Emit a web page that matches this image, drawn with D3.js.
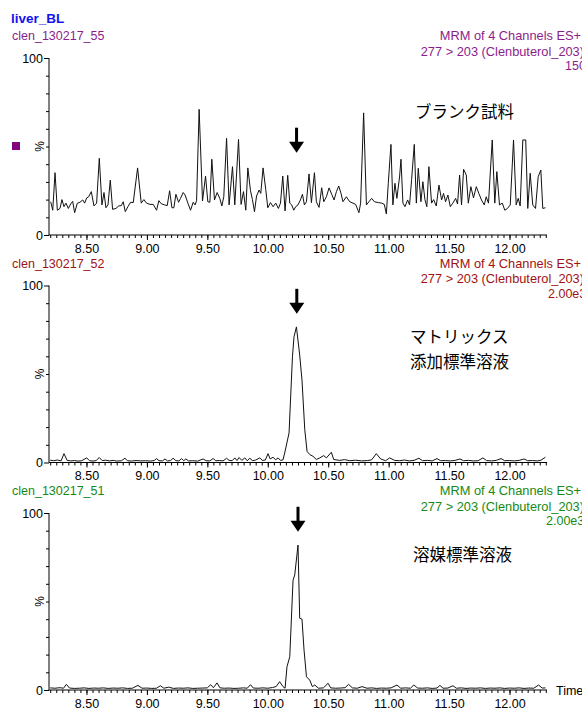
<!DOCTYPE html>
<meta charset="utf-8">
<style>
  body { margin: 0; background: #fff; }
  svg { display: block; font-family: "Liberation Sans", Arial, sans-serif; }
  .jp { font-family: "Noto Sans CJK JP", sans-serif; }
</style>
<svg id="chart" width="582" height="709"></svg>
<script src="https://cdnjs.cloudflare.com/ajax/libs/d3/7.8.5/d3.min.js"></script>
<script>

// retention time (min) vs relative intensity (%)
var blankTrace = [
  [8.204,18.8],[8.221,14],[8.240,35.2],[8.259,14],[8.281,15],[8.297,20],[8.314,16],[8.330,18],
  [8.350,15],[8.369,17.5],[8.386,19],[8.402,12.6],[8.424,17.9],[8.446,18.5],[8.469,19.8],[8.485,18],
  [8.502,21],[8.518,21.6],[8.540,24.5],[8.562,16.4],[8.584,18],[8.606,43.3],[8.628,17],[8.645,24],
  [8.661,15.4],[8.678,17],[8.697,31],[8.716,14.5],[8.744,15],[8.766,16.4],[8.788,16.6],[8.804,18.8],
  [8.821,13.2],[8.843,16],[8.865,18.5],[8.887,18.3],[8.923,37.9],[8.953,18],[8.975,20],[8.997,18],
  [9.025,17.3],[9.052,17.3],[9.080,14],[9.099,19.4],[9.118,17.7],[9.146,17],[9.168,16.6],[9.188,25],
  [9.207,15.4],[9.223,15.4],[9.240,23],[9.262,18.5],[9.278,20.7],[9.300,24],[9.316,22.6],[9.339,18],
  [9.361,14],[9.383,18.5],[9.399,17],[9.411,19.4],[9.432,71],[9.460,19.2],[9.485,33.3],[9.504,18.8],
  [9.521,18.5],[9.537,42.8],[9.559,19.8],[9.581,24],[9.603,20.7],[9.620,16.4],[9.636,21.6],[9.659,54.6],
  [9.680,17],[9.708,38.6],[9.727,17],[9.758,54],[9.779,17.3],[9.799,24.5],[9.818,14],[9.835,37.9],
  [9.857,25],[9.873,20],[9.890,13.2],[9.907,22],[9.928,25.4],[9.942,23.5],[9.961,37.9],[9.983,25.8],
  [10.000,15.4],[10.022,18.3],[10.044,16],[10.066,18],[10.088,15],[10.105,18],[10.124,33.3],[10.143,13.6],
  [10.165,33.7],[10.182,18],[10.198,17],[10.215,14],[10.231,16],[10.250,17],[10.270,19.8],[10.287,23],
  [10.303,17],[10.320,18.8],[10.341,34.5],[10.361,18.3],[10.386,35.2],[10.402,18.8],[10.424,15.6],[10.446,26.7],
  [10.463,18.8],[10.485,21.6],[10.507,26.6],[10.529,23],[10.548,19.8],[10.568,24.5],[10.587,27.7],[10.606,23.5],
  [10.622,18.8],[10.650,21.6],[10.678,18.8],[10.705,18],[10.727,17.3],[10.754,12.6],[10.768,18],[10.793,69],
  [10.816,17],[10.837,18.8],[10.859,20.7],[10.882,18.8],[10.915,18.3],[10.942,18],[10.964,17.3],[10.981,11.9],
  [10.997,29.2],[11.019,51.2],[11.035,17],[11.052,29.2],[11.068,20.7],[11.091,33.3],[11.102,42.8],[11.118,18],
  [11.135,16],[11.157,19.8],[11.173,17],[11.190,31.4],[11.212,51.2],[11.229,18],[11.245,37.7],[11.267,18.8],
  [11.283,30.1],[11.300,20],[11.316,16],[11.333,38.6],[11.355,18],[11.372,20],[11.394,16.4],[11.416,28.2],
  [11.438,19.8],[11.454,23.5],[11.471,18.8],[11.490,22.6],[11.510,16],[11.531,18],[11.554,20.7],[11.570,17.5],
  [11.587,33.9],[11.603,17],[11.620,37.1],[11.642,33.9],[11.659,18],[11.680,27.3],[11.702,21],[11.725,27.3],
  [11.746,23.5],[11.768,19.8],[11.791,17],[11.807,21.6],[11.826,18],[11.857,53.7],[11.878,18],[11.895,35.8],
  [11.917,17],[11.940,18],[11.961,14],[11.983,15],[12.006,17],[12.033,53.7],[12.055,17],[12.072,20.7],
  [12.088,16.4],[12.110,53.7],[12.134,53.7],[12.151,15],[12.171,34.9],[12.192,17],[12.215,15],[12.237,32.9],
  [12.259,36.7],[12.275,15],[12.297,15.4]
];

var matrixTrace = [
  [8.200,1.3],[8.230,1.0],[8.260,1.4],[8.290,0.9],[8.314,5.0],[8.340,1.2],[8.370,0.9],[8.400,1.1],
  [8.430,0.8],[8.460,1.0],[8.502,2.6],[8.525,1.0],[8.555,0.8],[8.580,1.1],[8.606,2.8],[8.630,1.1],
  [8.660,1.3],[8.690,0.9],[8.720,1.2],[8.750,0.8],[8.790,1.0],[8.818,2.4],[8.840,1.0],[8.870,0.8],
  [8.910,1.1],[8.950,0.9],[8.990,1.0],[9.030,0.8],[9.060,1.1],[9.080,2.2],[9.100,1.0],[9.130,0.9],
  [9.149,2.0],[9.170,0.9],[9.195,1.1],[9.217,2.4],[9.240,1.0],[9.265,0.9],[9.287,2.2],[9.305,1.0],
  [9.322,2.0],[9.345,0.9],[9.380,1.0],[9.420,0.8],[9.465,2.0],[9.490,1.0],[9.520,0.9],[9.548,2.2],
  [9.570,1.0],[9.600,1.1],[9.630,0.9],[9.659,2.4],[9.680,1.2],[9.705,1.0],[9.727,2.6],[9.745,1.1],
  [9.763,2.8],[9.785,1.2],[9.810,2.6],[9.830,1.0],[9.851,2.4],[9.875,1.0],[9.900,1.4],[9.934,2.6],
  [9.955,1.2],[9.980,1.4],[10.002,5.0],[10.020,2.0],[10.044,3.0],[10.065,1.5],[10.085,2.6],[10.105,1.2],
  [10.126,1.5],[10.140,5.4],[10.176,16.7],[10.204,59.7],[10.217,71],[10.237,76.6],[10.264,60.7],[10.283,46.6],
  [10.306,18.5],[10.325,6.3],[10.347,4.5],[10.374,3.5],[10.402,1.7],[10.430,2.6],[10.463,3.9],[10.485,2.6],
  [10.526,5.8],[10.545,1.7],[10.595,1.2],[10.636,1.6],[10.678,1.0],[10.727,1.3],[10.777,0.9],[10.826,1.1],
  [10.859,1.5],[10.898,5.0],[10.934,2.0],[10.975,1.0],[11.008,2.6],[11.050,1.2],[11.090,1.0],[11.130,1.4],
  [11.170,0.9],[11.210,1.2],[11.250,2.4],[11.280,1.0],[11.320,1.2],[11.360,0.9],[11.400,2.2],[11.430,1.0],
  [11.470,1.1],[11.510,0.9],[11.550,1.2],[11.590,2.0],[11.620,1.0],[11.660,1.2],[11.700,0.9],[11.740,1.0],
  [11.780,2.6],[11.810,1.1],[11.850,0.9],[11.890,1.2],[11.930,2.2],[11.960,1.0],[12.000,1.1],[12.040,0.9],
  [12.080,1.2],[12.120,2.0],[12.150,1.0],[12.190,1.1],[12.230,0.9],[12.260,1.3],[12.297,3.0]
];

var solventTrace = [
  [8.200,1.2],[8.240,1.0],[8.280,1.3],[8.310,1.0],[8.334,3.2],[8.360,1.1],[8.400,0.9],[8.440,1.0],
  [8.480,1.2],[8.520,0.9],[8.560,1.1],[8.600,1.0],[8.640,1.2],[8.680,0.9],[8.720,1.1],[8.760,1.0],
  [8.800,1.2],[8.840,0.9],[8.880,1.0],[8.926,2.6],[8.960,1.0],[9.000,1.1],[9.040,0.9],[9.080,1.0],
  [9.111,2.4],[9.140,1.0],[9.180,1.6],[9.220,0.9],[9.260,1.1],[9.300,1.0],[9.340,1.2],[9.380,0.9],
  [9.420,1.0],[9.460,1.1],[9.500,1.2],[9.527,3.0],[9.550,1.3],[9.580,4.0],[9.605,1.2],[9.640,1.0],
  [9.680,1.1],[9.720,0.9],[9.760,1.0],[9.800,1.2],[9.830,1.0],[9.857,3.0],[9.880,1.1],[9.920,1.0],
  [9.960,1.2],[10.000,1.0],[10.040,1.4],[10.070,2.0],[10.098,4.7],[10.126,1.9],[10.143,1.0],[10.159,13.2],
  [10.182,18.8],[10.209,62],[10.223,65],[10.250,81.9],[10.264,40.5],[10.283,40],[10.300,22.6],[10.320,7.5],
  [10.347,5.6],[10.369,1.9],[10.388,2.8],[10.420,1.0],[10.460,1.2],[10.499,3.8],[10.520,1.2],[10.560,1.0],
  [10.600,1.1],[10.640,1.3],[10.668,3.2],[10.700,1.2],[10.740,1.0],[10.780,1.9],[10.820,1.0],[10.860,1.2],
  [10.900,0.9],[10.940,1.1],[10.980,1.0],[11.020,1.2],[11.069,2.8],[11.100,1.0],[11.140,1.2],[11.180,1.0],
  [11.208,2.8],[11.240,1.1],[11.280,1.0],[11.320,1.2],[11.360,0.9],[11.400,1.1],[11.424,2.6],[11.450,1.0],
  [11.490,1.1],[11.532,2.4],[11.560,1.0],[11.600,1.2],[11.640,0.9],[11.680,1.1],[11.720,1.0],[11.760,1.2],
  [11.800,0.9],[11.840,1.1],[11.880,1.0],[11.920,1.2],[11.960,0.9],[12.000,1.1],[12.040,1.0],[12.080,1.2],
  [12.120,0.9],[12.160,1.1],[12.200,1.0],[12.241,2.8],[12.270,1.1],[12.297,1.2]
];

var timeTicks = [8.50, 9.00, 9.50, 10.00, 10.50, 11.00, 11.50, 12.00];
var sampleNames = ["clen_130217_55", "clen_130217_52", "clen_130217_51"];
var scanLines = ["MRM of 4 Channels ES+", "277 > 203 (Clenbuterol_203)"];
var intensities = ["150", "2.00e3", "2.00e3"];
var notes = [["ブランク試料"], ["マトリックス", "添加標準溶液"], ["溶媒標準溶液"]];
var arrowMarks = [[10.238, 46.5], [10.24, 84], [10.25, 89.4]];   // time, tip value (%)
var traces = [blankTrace, matrixTrace, solventTrace];
var colors = ["#8b1e8b", "#a01212", "#158a15"];

var svg = d3.select("#chart"),
    left = 49, right = 547,
    plotTop = 58, plotHeight = 177, step = 227.5;

svg.append("rect").attr("width", 582).attr("height", 709).attr("fill", "#fff");

var x = d3.scaleLinear()
    .domain([8.19, 12.31])
    .range([left, right]);

var minorX = d3.range(8.20, 12.30, 0.05).map(function(d) { return +d.toFixed(2); });

svg.append("text")
    .attr("x", 11).attr("y", 23)
    .attr("fill", "#1414f0")
    .attr("font-size", 13.5)
    .attr("font-weight", "bold")
    .text("liver_BL");

traces.forEach(function(data, i) {
  var top = plotTop + i * step;
  var y = d3.scaleLinear()
      .domain([0, 100])
      .range([top + plotHeight, top]);

  var g = svg.append("g");

  // headers
  g.append("text")
      .attr("x", 12).attr("y", top - 18)
      .attr("fill", colors[i])
      .attr("font-size", 12.5)
      .text(sampleNames[i]);

  scanLines.forEach(function(s, k) {
    g.append("text")
        .attr("x", k == 0 ? 581 : 584)
        .attr("y", top - 18 + k * 15.5)
        .attr("text-anchor", "end")
        .attr("fill", colors[i])
        .attr("font-size", 12.8)
        .text(s);
  });

  g.append("text")
      .attr("x", i == 0 ? 565 : (i == 1 ? 548 : 546))
      .attr("y", top - 18 + 30)
      .attr("fill", colors[i])
      .attr("font-size", 12.5)
      .text(intensities[i]);

  // x axis: minor then major ticks
  g.append("g")
      .attr("transform", "translate(0," + y(0) + ")")
      .call(d3.axisBottom(x).tickValues(minorX).tickSize(3).tickFormat(""))
      .call(function(a) { a.select(".domain").remove(); });

  g.append("g")
      .attr("transform", "translate(0," + y(0) + ")")
      .call(d3.axisBottom(x).tickValues(timeTicks).tickSize(5).tickPadding(4).tickFormat(d3.format(".2f")))
      .call(function(a) {
        a.select(".domain").attr("d", "M" + left + ",0H" + right);
        a.selectAll("text").attr("font-size", 12.5).attr("font-family", null);
      });

  // y axis
  g.append("g")
      .attr("transform", "translate(" + left + ",0)")
      .call(d3.axisLeft(y).tickValues(d3.range(10, 100, 10)).tickSize(3).tickFormat(""))
      .call(function(a) { a.select(".domain").remove(); });

  g.append("g")
      .attr("transform", "translate(" + left + ",0)")
      .call(d3.axisLeft(y).tickValues([0, 100]).tickSize(5).tickPadding(1))
      .call(function(a) {
        a.select(".domain").attr("d", "M0," + y(0) + "V" + y(100));
        a.selectAll("text").attr("font-size", 12.5).attr("font-family", null);
      });

  g.append("text")
      .attr("transform", "translate(44," + y(50) + ") rotate(-90)")
      .attr("text-anchor", "middle")
      .attr("font-size", 12)
      .text("%");

  // trace
  var line = d3.line()
      .x(function(d) { return x(d[0]); })
      .y(function(d) { return y(d[1]); });

  g.append("path")
      .datum(data)
      .attr("fill", "none")
      .attr("stroke", "#111")
      .attr("stroke-width", 1)
      .attr("stroke-linejoin", "miter")
      .attr("d", line);

  // arrow pointing at clenbuterol retention time
  var ax = x(arrowMarks[i][0]), ay = y(arrowMarks[i][1]);
  g.append("rect")
      .attr("x", ax - 1.5).attr("y", ay - 25)
      .attr("width", 3).attr("height", 16)
      .attr("fill", "#000");
  g.append("path")
      .attr("d", "M" + (ax - 7.5) + "," + (ay - 11) + "L" + (ax + 7.5) + "," + (ay - 11) + "L" + ax + "," + ay + "Z")
      .attr("fill", "#000");

  // japanese note
  notes[i].forEach(function(s, k) {
    g.append("text")
        .attr("class", "jp")
        .attr("x", i == 0 ? 415 : (i == 1 ? 410 : 413))
        .attr("y", (i == 0 ? 118 : (i == 1 ? 343 : 561)) + k * 25)
        .attr("font-size", 16.5)
        .text(s);
  });
});

// channel marker square in first panel
svg.append("rect")
    .attr("x", 12).attr("y", 142)
    .attr("width", 8).attr("height", 8)
    .attr("fill", "#800080");

svg.append("text")
    .attr("x", 556).attr("y", 695)
    .attr("font-size", 12.5)
    .text("Time");

</script>
